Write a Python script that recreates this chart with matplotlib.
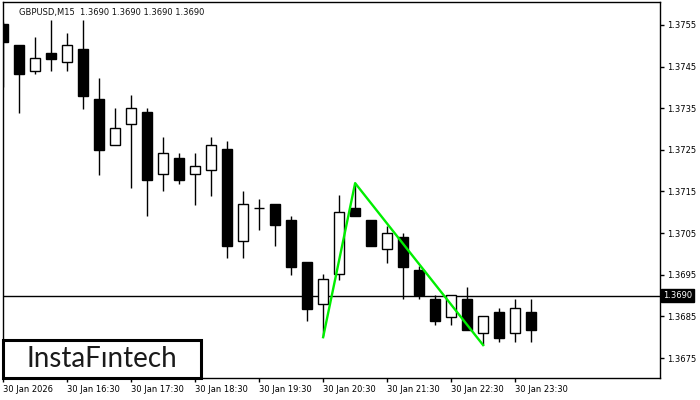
import matplotlib
matplotlib.use("Agg")
import matplotlib.pyplot as plt
import matplotlib.transforms as mtransforms
from matplotlib.patches import Rectangle

#CHART DATA------------------------------------------------------------------------------------------
#GBPUSD M15 candles (oldest first)
opens = [1.37552, 1.37502, 1.37440, 1.37483, 1.37460, 1.37492, 1.37372, 1.37261, 1.37311, 1.37340,
         1.37191, 1.37230, 1.37191, 1.37201, 1.37252, 1.37030, 1.37110, 1.37120, 1.37082, 1.36981,
         1.36879, 1.36951, 1.37110, 1.37082, 1.37011, 1.37041, 1.36961, 1.36891, 1.36849, 1.36891,
         1.36809, 1.36860, 1.36809, 1.36860]
highs = [1.37557, 1.37502, 1.37521, 1.37562, 1.37531, 1.37562, 1.37423, 1.37351, 1.37381, 1.37351,
         1.37281, 1.37242, 1.37242, 1.37281, 1.37271, 1.37151, 1.37132, 1.37120, 1.37091, 1.36981,
         1.36952, 1.37142, 1.37170, 1.37082, 1.37067, 1.37050, 1.36971, 1.36901, 1.36901, 1.36920,
         1.36850, 1.36869, 1.36891, 1.36891]
lows = [1.37401, 1.37339, 1.37431, 1.37440, 1.37440, 1.37349, 1.37190, 1.37261, 1.37159, 1.37090,
        1.37150, 1.37169, 1.37118, 1.37140, 1.36990, 1.36990, 1.37058, 1.37019, 1.36950, 1.36840,
        1.36802, 1.36938, 1.37090, 1.37020, 1.36979, 1.36891, 1.36891, 1.36830, 1.36830, 1.36818,
        1.36781, 1.36789, 1.36789, 1.36789]
closes = [1.37510, 1.37431, 1.37470, 1.37469, 1.37501, 1.37380, 1.37250, 1.37302, 1.37350, 1.37178,
          1.37242, 1.37178, 1.37211, 1.37261, 1.37020, 1.37119, 1.37110, 1.37070, 1.36969, 1.36868,
          1.36939, 1.37100, 1.37090, 1.37020, 1.37050, 1.36969, 1.36901, 1.36840, 1.36901, 1.36818,
          1.36850, 1.36799, 1.36869, 1.36818]

#time axis labels, one every 4 candles
time_labels = ["30 Jan 2026", "30 Jan 16:30", "30 Jan 17:30", "30 Jan 18:30", "30 Jan 19:30",
               "30 Jan 20:30", "30 Jan 21:30", "30 Jan 22:30", "30 Jan 23:30"]
label_step = 4

#price axis
price_ticks = [1.3675, 1.3685, 1.3695, 1.3705, 1.3715, 1.3725, 1.3735, 1.3745, 1.3755]
current_price = 1.3690

#double top pattern line (candle index, price)
pattern_idx = [20, 22, 30]
pattern_price = [1.36800, 1.37170, 1.36781]

#DRAWING---------------------------------------------------------------------------------------------
fig = plt.figure(figsize=(7, 4), dpi=100)
ax = fig.add_axes([0.004, 0.055, 0.939, 0.94])

body_w = 0.65
for i in range(len(opens)):
    o, h, l, c = opens[i], highs[i], lows[i], closes[i]
    ax.vlines(i, l, h, color='black', linewidth=1, zorder=2)
    if abs(c - o) < 0.00002:
        #doji
        ax.hlines(o, i - body_w / 2, i + body_w / 2, color='black', linewidth=1, zorder=3)
    else:
        face = 'white' if c > o else 'black'
        ax.add_patch(Rectangle((i - body_w / 2, min(o, c)), body_w, abs(c - o),
                               facecolor=face, edgecolor='black', linewidth=1, zorder=3))

#current price line
ax.axhline(current_price, color='black', linewidth=1, zorder=1)

#pattern
ax.plot(pattern_idx, pattern_price, color='#00ee00', linewidth=1.7, zorder=4)

ax.set_xlim(-0.02, 41.06)
ax.set_ylim(1.36702, 1.37605)

#axes look
for s in ax.spines.values():
    s.set_linewidth(1)
    s.set_color('black')

ax.set_xticks([k * label_step for k in range(len(time_labels))])
ax.set_xticklabels(time_labels, fontsize=6, ha='left')
ax.tick_params(axis='x', length=3, width=1, pad=2)

ax.yaxis.tick_right()
ax.set_yticks(price_ticks)
ax.set_yticklabels(["%.4f" % p for p in price_ticks], fontsize=6)
ax.tick_params(axis='y', length=3, width=1, pad=2)

#price label on the right axis
trans = mtransforms.blended_transform_factory(ax.transAxes, ax.transData)
ax.text(1.004, current_price, "%.4f" % current_price, transform=trans, fontsize=6, color='white',
        ha='left', va='center', bbox=dict(facecolor='black', edgecolor='black', pad=1.2))

#header
ax.text(0.025, 0.985, "GBPUSD,M15  1.3690 1.3690 1.3690 1.3690", transform=ax.transAxes,
        fontsize=6, color='#111111', ha='left', va='top')

#logo box
ax.add_patch(Rectangle((0.0, 0.0), 0.302, 0.1, transform=ax.transAxes, facecolor='white',
                       edgecolor='black', linewidth=2.2, zorder=5, clip_on=False))
ax.text(0.151, 0.05, "InstaFıntech", transform=ax.transAxes, fontsize=20, color='#1a1a1a',
        family=['Lato', 'DejaVu Sans'], ha='center', va='center', zorder=6)

fig.savefig("out.png", dpi=100)
